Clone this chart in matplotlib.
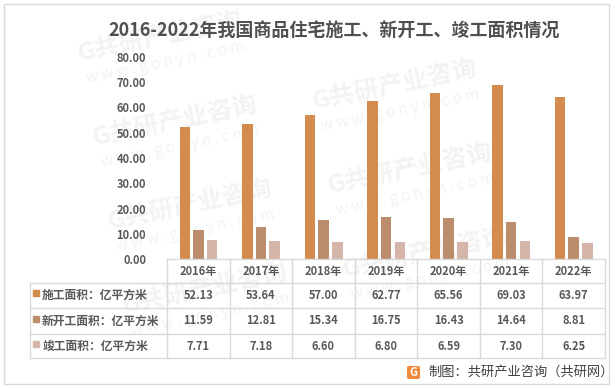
import matplotlib
matplotlib.use('Agg')
import matplotlib.pyplot as plt
import matplotlib.transforms as mtransforms
from matplotlib.patches import FancyBboxPatch, Rectangle
import numpy as np

plt.rcParams['font.family'] = ['Noto Sans CJK SC', 'DejaVu Sans']

# data
years = ['2016年', '2017年', '2018年', '2019年', '2020年', '2021年', '2022年']
series_names = ['施工面积：亿平方米', '新开工面积：亿平方米', '竣工面积：亿平方米']
construction = [52.13, 53.64, 57.00, 62.77, 65.56, 69.03, 63.97]
new_starts = [11.59, 12.81, 15.34, 16.75, 16.43, 14.64, 8.81]
completed = [7.71, 7.18, 6.60, 6.80, 6.59, 7.30, 6.25]
y_ticks = [0, 10, 20, 30, 40, 50, 60, 70, 80]

colors = ['#D48C4E', '#BC8D6C', '#D5B5AA']
text_col = '#595959'
grid_col = '#D9D9D9'

W, H = 615, 388
fig = plt.figure(figsize=(W / 100, H / 100), dpi=100)

# outer border
fig.patches.append(Rectangle((4 / W, 4 / H), 605 / W, 380 / H, transform=fig.transFigure,
                             fill=False, edgecolor='#D9D9D9', linewidth=1))

# faint watermark pattern behind everything (only the copies that fit inside the frame)
ang = 11.6
ca, sa = np.cos(np.radians(ang)), np.sin(np.radians(ang))
for i in range(-1, 3):
    for j in range(-2, 4):
        cx = 175 + 220 * i + 15 * j
        cy = 121 - 36 * i + 84 * j
        if cx - 100 < 8 or cx + 100 > 606 or cy - 25 < 8 or cy + 45 > 380:
            continue
        fig.text(cx / W, 1 - cy / H, 'G共研产业咨询', rotation=ang, rotation_mode='anchor',
                 ha='center', va='center', fontsize=18, fontweight='bold', color='#F3F3F3',
                 zorder=-2)
        # second line sits ~26 px below, perpendicular to the text direction
        bx, by = cx + 26 * sa, cy + 26 * ca
        fig.text(bx / W, 1 - by / H, 'w w w . g o n y n . c o m', rotation=ang,
                 rotation_mode='anchor', ha='center', va='center', fontsize=11,
                 color='#F3F3F3', zorder=-2)

# axes: x 167..605 px, y 57..259 px (from top)
ax_left, ax_right, ax_top, ax_bot = 167, 605, 57, 259
ax = fig.add_axes([ax_left / W, (H - ax_bot) / H, (ax_right - ax_left) / W, (ax_bot - ax_top) / H])
ax.patch.set_alpha(0)

x = np.arange(len(years))
bw = 0.168
offs = [-0.216, 0, 0.221]
for vals, c, o in zip([construction, new_starts, completed], colors, offs):
    ax.bar(x + o, vals, width=bw, color=c, zorder=2)

ax.set_xlim(-0.5, len(years) - 0.5)
ax.set_ylim(0, 80)
ax.set_yticks(y_ticks)
ax.set_yticklabels([f'{v:.2f}' for v in y_ticks])
ax.set_xticks([])
ax.tick_params(axis='y', length=0, pad=15, labelsize=8, labelcolor=text_col)
for lbl in ax.get_yticklabels():
    lbl.set_fontweight('bold')
for s in ax.spines.values():
    s.set_visible(False)

# data table below the plot
trans = mtransforms.blended_transform_factory(ax.transData, ax.transAxes)
ax_h = ax_bot - ax_top
px_per_cat = (ax_right - ax_left) / len(years)


def yf(py):
    return (ax_bot - py) / ax_h


def xd(px):
    return -0.5 + (px - ax_left) / px_per_cat


row_edges = [259, 283, 308, 334, 358]
x_left = xd(30)
x_right = len(years) - 0.5

# horizontal lines
ax.plot([-0.5, x_right], [yf(row_edges[0])] * 2, color=grid_col, lw=1, transform=trans, clip_on=False)
for py in row_edges[1:]:
    ax.plot([x_left, x_right], [yf(py)] * 2, color=grid_col, lw=1, transform=trans, clip_on=False)
# vertical lines
for k in range(len(years) + 1):
    ax.plot([k - 0.5] * 2, [yf(row_edges[0]), yf(row_edges[-1])], color=grid_col, lw=1,
            transform=trans, clip_on=False)
ax.plot([x_left] * 2, [yf(row_edges[1]), yf(row_edges[-1])], color=grid_col, lw=1,
        transform=trans, clip_on=False)

# header
hy = yf((row_edges[0] + row_edges[1]) / 2)
for i, yr in enumerate(years):
    ax.text(i, hy, yr, transform=trans, ha='center', va='center', fontsize=8,
            color=text_col, fontweight='bold')

# rows
for r, (name, vals, c) in enumerate(zip(series_names, [construction, new_starts, completed], colors)):
    cy = yf((row_edges[r + 1] + row_edges[r + 2]) / 2)
    ax.plot([xd(35.5)], [cy + 0.01], marker='s', markersize=4.5, color=c, linestyle='none',
            transform=trans, clip_on=False)
    ax.text(xd(42), cy, name, transform=trans, ha='left', va='center', fontsize=8.5,
            color=text_col, fontweight='bold')
    for i, v in enumerate(vals):
        ax.text(i, cy, f'{v:.2f}', transform=trans, ha='center', va='center', fontsize=8,
                color=text_col, fontweight='bold')

# title
fig.text(334 / W, 1 - 31 / H, '2016-2022年我国商品住宅施工、新开工、竣工面积情况',
         ha='center', va='center', fontsize=13, fontweight='bold', color='#505050')

# source note with small logo
logo = FancyBboxPatch((407 / W, 1 - 379 / H), 13 / W, 13 / H, boxstyle='round,pad=0,rounding_size=0.004',
                      transform=fig.transFigure, facecolor='#F08A3C', edgecolor='none')
fig.patches.append(logo)
fig.text(413.5 / W, 1 - 372.5 / H, 'G', ha='center', va='center', fontsize=8, fontweight='bold',
         color='white')
fig.text(428 / W, 1 - 372 / H, '制图：共研产业咨询（共研网）', ha='left', va='center',
         fontsize=9.5, color='#404040')

fig.savefig('out.png', dpi=100)
